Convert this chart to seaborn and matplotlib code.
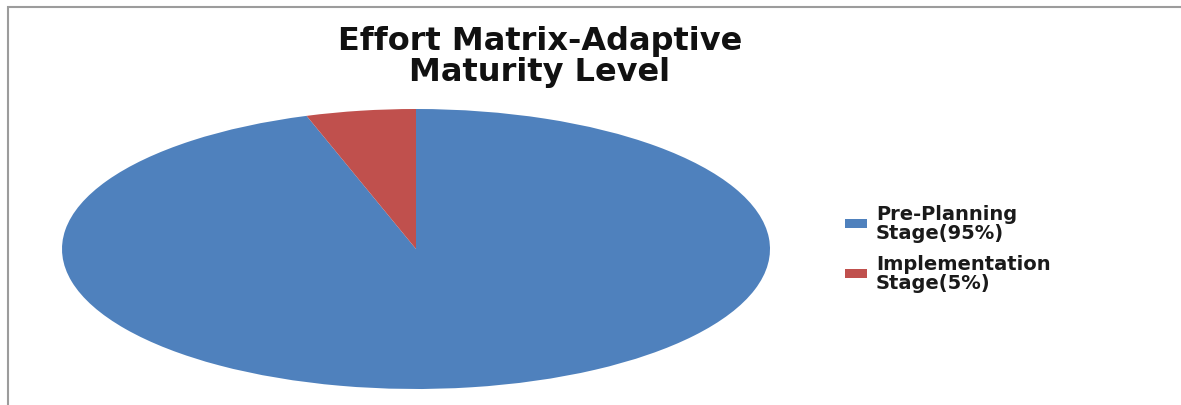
import matplotlib
matplotlib.use("Agg")
import matplotlib.pyplot as plt
from matplotlib.patches import Patch, Rectangle
import seaborn as sns

# Effort split across the two stages
stages = ["Pre-Planning\nStage(95%)", "Implementation\nStage(5%)"]
effort = [95, 5]
stage_colors = ["#4F81BD", "#C0504D"]
chart_title = "Effort Matrix-Adaptive\nMaturity Level"

sns.set_theme(style="white")
plt.rcParams["font.family"] = ["DejaVu Sans"]

W, H = 1181, 406
fig = plt.figure(figsize=(W / 100, H / 100), dpi=100)
fig.patch.set_facecolor("white")

# Pie drawn into a wide axes so it renders as a flattened ellipse
ax = fig.add_axes([62 / W, 16 / H, 708 / W, 280 / H])
palette = sns.color_palette(stage_colors)
wedges, _ = ax.pie(
    effort,
    colors=palette,
    startangle=90,
    counterclock=False,
    wedgeprops=dict(linewidth=0),
)
ax.set_aspect("auto")
ax.set_xlim(-1, 1)
ax.set_ylim(-1, 1)
ax.axis("off")

# Chart-area border (left and top edges visible)
fig.patches.append(
    Rectangle((8 / W, -0.2), 1.5, (H - 8) / H + 0.2, transform=fig.transFigure,
              fill=False, edgecolor="#9c9c9c", linewidth=1.5)
)

fig.text(540 / W, 1 - 57 / H, chart_title, ha="center", va="center",
         fontsize=23, fontweight="bold", color="#111111", linespacing=1.0)

handles = [Patch(facecolor=c, edgecolor="none", label=l) for c, l in zip(palette, stages)]
leg = fig.legend(
    handles=handles,
    loc="upper left",
    bbox_to_anchor=(845 / W, 1 - 205 / H),
    frameon=False,
    prop={"size": 14, "weight": "bold"},
    handlelength=1.15,
    handleheight=0.36,
    handletextpad=0.45,
    labelspacing=0.6,
    borderpad=0,
    borderaxespad=0,
)
for t in leg.get_texts():
    t.set_color("#1a1a1a")
    t.set_linespacing(1.0)

fig.savefig("out.png", dpi=100, facecolor="white")
